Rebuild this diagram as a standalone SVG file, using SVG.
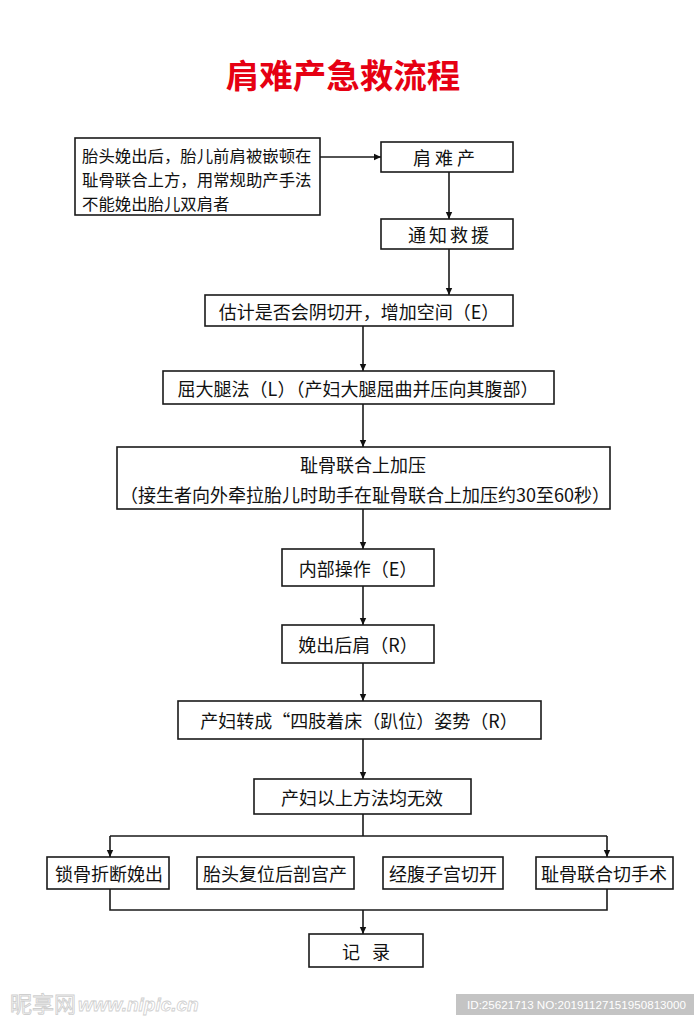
<svg xmlns="http://www.w3.org/2000/svg" width="694" height="1024" viewBox="0 0 694 1024">
<defs>
<marker id="arr" markerUnits="userSpaceOnUse" markerWidth="8" markerHeight="8" refX="7" refY="4" orient="auto">
<path d="M0,0.8 L7,4 L0,7.2 Z" fill="#111"/>
</marker>
<style>
.box{fill:#fff;stroke:#1a1a1a;stroke-width:1.6}
.t{font-family:"Noto Sans CJK SC","Noto Sans",sans-serif;font-size:18px;fill:#111;text-anchor:middle;dominant-baseline:central}
.tl{font-family:"Noto Sans CJK SC","Noto Sans",sans-serif;font-size:16.4px;fill:#111;dominant-baseline:central}
.c{fill:none;stroke:#1a1a1a;stroke-width:1.6}
.ca{fill:none;stroke:#1a1a1a;stroke-width:1.6;marker-end:url(#arr)}
</style>
</defs>
<rect width="694" height="1024" fill="#fff"/>
<text x="343" y="73" font-family="'Noto Sans CJK SC',sans-serif" font-size="33.5" font-weight="bold" fill="#e60012" text-anchor="middle" dominant-baseline="central">肩难产急救流程</text>

<g id="connectors">
<path class="ca" d="M320,157 H381"/>
<path class="ca" d="M449,172 V219"/>
<path class="ca" d="M449,249 V295"/>
<path class="ca" d="M363,326 V371"/>
<path class="ca" d="M363,404 V447"/>
<path class="ca" d="M363,509 V549"/>
<path class="ca" d="M363,586 V625"/>
<path class="ca" d="M363,663 V701"/>
<path class="ca" d="M363,739 V779"/>
<path class="c" d="M363,814 V836 M110,836 H607"/>
<path class="ca" d="M110,836 V857"/>
<path class="ca" d="M607,836 V857"/>
<path class="c" d="M110,889 V910 H607 V889"/>
<path class="ca" d="M363,910 V934"/>
</g>

<g id="n0"><rect class="box" x="75" y="138" width="245" height="77"/>
<text class="tl" x="82" y="155">胎头娩出后，胎儿前肩被嵌顿在</text>
<text class="tl" x="82" y="179">耻骨联合上方，用常规助产手法</text>
<text class="tl" x="82" y="203">不能娩出胎儿双肩者</text></g>
<g id="n1"><rect class="box" x="381" y="142" width="132" height="30"/><text class="t" x="446" y="157" letter-spacing="4">肩难产</text></g>
<g id="n2"><rect class="box" x="381" y="219" width="132" height="30"/><text class="t" x="450" y="234" letter-spacing="3">通知救援</text></g>
<g id="n3"><rect class="box" x="205" y="295" width="308" height="31"/><text class="t" x="359" y="310.5">估计是否会阴切开，增加空间（E）</text></g>
<g id="n4"><rect class="box" x="163" y="371" width="391" height="33"/><text class="t" x="358" y="387.5">屈大腿法（L）（产妇大腿屈曲并压向其腹部）</text></g>
<g id="n5"><rect class="box" x="117" y="447" width="493" height="62"/><text class="t" x="363" y="464">耻骨联合上加压</text><text class="t" x="365" y="494">（接生者向外牵拉胎儿时助手在耻骨联合上加压约30至60秒）</text></g>
<g id="n6"><rect class="box" x="282" y="549" width="152" height="37"/><text class="t" x="358" y="567.5">内部操作（E）</text></g>
<g id="n7"><rect class="box" x="282" y="625" width="152" height="38"/><text class="t" x="358" y="644">娩出后肩（R）</text></g>
<g id="n8"><rect class="box" x="178" y="701" width="363" height="38"/><text class="t" x="359" y="720">产妇转成“四肢着床（趴位）姿势（R）</text></g>
<g id="n9"><rect class="box" x="254" y="779" width="217" height="35"/><text class="t" x="362" y="796.5">产妇以上方法均无效</text></g>
<g id="n10"><rect class="box" x="47" y="857" width="122" height="32"/><text class="t" x="109" y="873">锁骨折断娩出</text></g>
<g id="n11"><rect class="box" x="197" y="857" width="157" height="32"/><text class="t" x="275" y="873">胎头复位后剖宫产</text></g>
<g id="n12"><rect class="box" x="383" y="857" width="120" height="32"/><text class="t" x="443" y="873">经腹子宫切开</text></g>
<g id="n13"><rect class="box" x="536" y="857" width="137" height="32"/><text class="t" x="604" y="873">耻骨联合切手术</text></g>
<g id="n14"><rect class="box" x="309" y="934" width="114" height="33"/><text class="t" x="366" y="950.5" xml:space="preserve">记   录</text></g>

<g id="watermark">
<text x="10" y="1012" font-family="'Noto Sans CJK SC',sans-serif" font-size="22" fill="#fff" stroke="#cfcfcf" stroke-width="0.9">昵享网</text>
<text x="78" y="1011" font-family="'Liberation Sans',sans-serif" font-size="19" font-style="italic" font-weight="bold" fill="#fff" stroke="#cfcfcf" stroke-width="0.8">www.nipic.cn</text>
<rect x="456" y="994" width="238" height="21" fill="#c4c4c4"/>
<text x="467" y="1009" font-family="'Liberation Sans',sans-serif" font-size="11.5" fill="#fff" textLength="219" lengthAdjust="spacingAndGlyphs">ID:25621713 NO:20191127151950813000</text>
</g>
</svg>
